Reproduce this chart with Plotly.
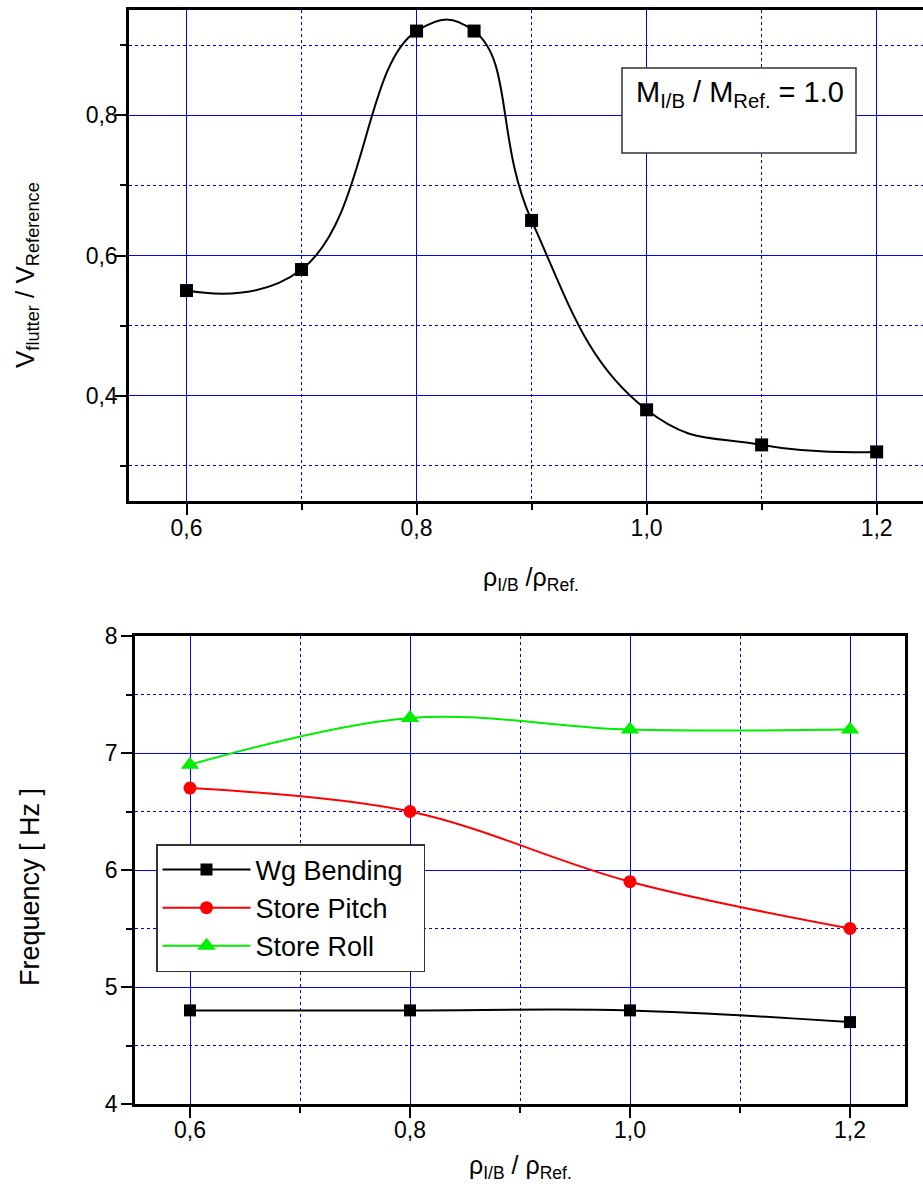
import plotly.graph_objects as go

# ---- data: top panel (flutter speed ratio) ----
rho_top = [0.6, 0.7, 0.8, 0.85, 0.9, 1.0, 1.1, 1.2]
v_ratio = [0.55, 0.58, 0.92, 0.92, 0.65, 0.38, 0.33, 0.32]

# ---- data: bottom panel (frequencies) ----
rho_bot = [0.6, 0.8, 1.0, 1.2]
wg_bending = [4.8, 4.8, 4.8, 4.7]
store_pitch = [6.7, 6.5, 5.9, 5.5]
store_roll = [6.9, 7.3, 7.2, 7.2]
series_names = ["Wg Bending", "Store Pitch", "Store Roll"]

W, H = 923, 1191
FONT = "Liberation Sans, Arial, sans-serif"
BLUE = "#0000ff"
PAD = "\u00a0\u00a0"

def px_x(p):
    return p / W

def px_y(p):
    return (H - p) / H

fig = go.Figure()

fig.add_trace(go.Scatter(
    x=rho_top, y=v_ratio, mode="lines+markers", showlegend=False,
    line=dict(color="black", width=2, shape="spline", smoothing=1.3),
    marker=dict(symbol="square", size=13, color="black"),
    xaxis="x", yaxis="y"))

fig.add_trace(go.Scatter(
    x=rho_bot, y=wg_bending, mode="lines+markers", name=series_names[0] + PAD,
    line=dict(color="black", width=2, shape="spline", smoothing=1.0),
    marker=dict(symbol="square", size=12, color="black"),
    xaxis="x2", yaxis="y2"))
fig.add_trace(go.Scatter(
    x=rho_bot, y=store_pitch, mode="lines+markers", name=series_names[1] + PAD,
    line=dict(color="#ff0000", width=2, shape="spline", smoothing=1.0),
    marker=dict(symbol="circle", size=13, color="#ff0000"),
    xaxis="x2", yaxis="y2"))
fig.add_trace(go.Scatter(
    x=rho_bot, y=store_roll, mode="lines+markers", name=series_names[2] + PAD,
    line=dict(color="#00ee00", width=2, shape="spline", smoothing=1.0),
    marker=dict(symbol="triangle-up", size=16, color="#00ee00"),
    xaxis="x2", yaxis="y2"))

tickfont = dict(family=FONT, size=23, color="black")

def axis_common(dtick, minor_dtick, rng, fmt, standoff):
    return dict(
        range=rng, tick0=0, dtick=dtick, tickformat=fmt,
        showline=True, linecolor="black", linewidth=2.5,
        ticks="outside", ticklen=11, tickwidth=2, tickcolor="black",
        showgrid=True, gridcolor=BLUE, gridwidth=1.3,
        zeroline=False, tickfont=tickfont, ticklabelstandoff=standoff,
        minor=dict(dtick=minor_dtick, tick0=0, ticks="outside", ticklen=6,
                   tickwidth=2, tickcolor="black", showgrid=True,
                   gridcolor=BLUE, griddash="dot", gridwidth=1),
    )

xa1 = axis_common(0.2, 0.1, [0.55, 1.2403], ".1f", -6)
xa1.update(domain=[px_x(129), 1.0], anchor="y", mirror=True)
ya1 = axis_common(0.2, 0.1, [0.25, 0.95], ".1f", -7)
ya1.update(domain=[px_y(501), px_y(10)], anchor="x", mirror=False)

xa2 = axis_common(0.2, 0.1, [0.55, 1.25], ".1f", -7)
xa2.update(domain=[px_x(135), px_x(905)], anchor="y2", mirror=True)
ya2 = axis_common(1, 0.5, [4, 8], "d", -1)
ya2.update(domain=[px_y(1104), px_y(636)], anchor="x2", mirror=True)

annotations = [
    dict(text="V<sub>flutter</sub> / V<sub>Reference</sub>", textangle=-90,
         x=px_x(27), y=px_y(275), xref="paper", yref="paper",
         xanchor="center", yanchor="middle", showarrow=False,
         font=dict(family=FONT, size=26, color="black")),
    dict(text="\u03c1<sub>I/B</sub> /\u03c1<sub>Ref.</sub>",
         x=px_x(531), y=px_y(579), xref="paper", yref="paper",
         xanchor="center", yanchor="middle", showarrow=False,
         font=dict(family=FONT, size=25, color="black")),
    dict(text="Frequency [ Hz ]", textangle=-90,
         x=px_x(30), y=px_y(887), xref="paper", yref="paper",
         xanchor="center", yanchor="middle", showarrow=False,
         font=dict(family=FONT, size=27, color="black")),
    dict(text="\u03c1<sub>I/B</sub> / \u03c1<sub>Ref.</sub>",
         x=px_x(520), y=px_y(1167), xref="paper", yref="paper",
         xanchor="center", yanchor="middle", showarrow=False,
         font=dict(family=FONT, size=25, color="black")),
    dict(text="M<sub>I/B</sub> / M<sub>Ref.</sub> = 1.0",
         x=px_x(740), y=px_y(94), xref="paper", yref="paper",
         xanchor="center", yanchor="middle", showarrow=False,
         font=dict(family=FONT, size=29, color="black")),
]

shapes = [
    dict(type="rect", xref="paper", yref="paper",
         x0=px_x(622), x1=px_x(856), y0=px_y(153), y1=px_y(68),
         fillcolor="white", line=dict(color="#333333", width=1.5),
         layer="above"),
]

fig.update_layout(
    width=W, height=H,
    margin=dict(l=0, r=0, t=0, b=0, autoexpand=False),
    paper_bgcolor="white", plot_bgcolor="white",
    separators=", ",
    font=dict(family=FONT, color="black"),
    xaxis=xa1, yaxis=ya1, xaxis2=xa2, yaxis2=ya2,
    annotations=annotations, shapes=shapes,
    legend=dict(x=px_x(156), y=px_y(844), xanchor="left", yanchor="top",
                bgcolor="white", bordercolor="#333333", borderwidth=1.5,
                font=dict(family=FONT, size=27, color="black"),
                itemwidth=88, tracegroupgap=0),
)

fig.write_html("out.html")
